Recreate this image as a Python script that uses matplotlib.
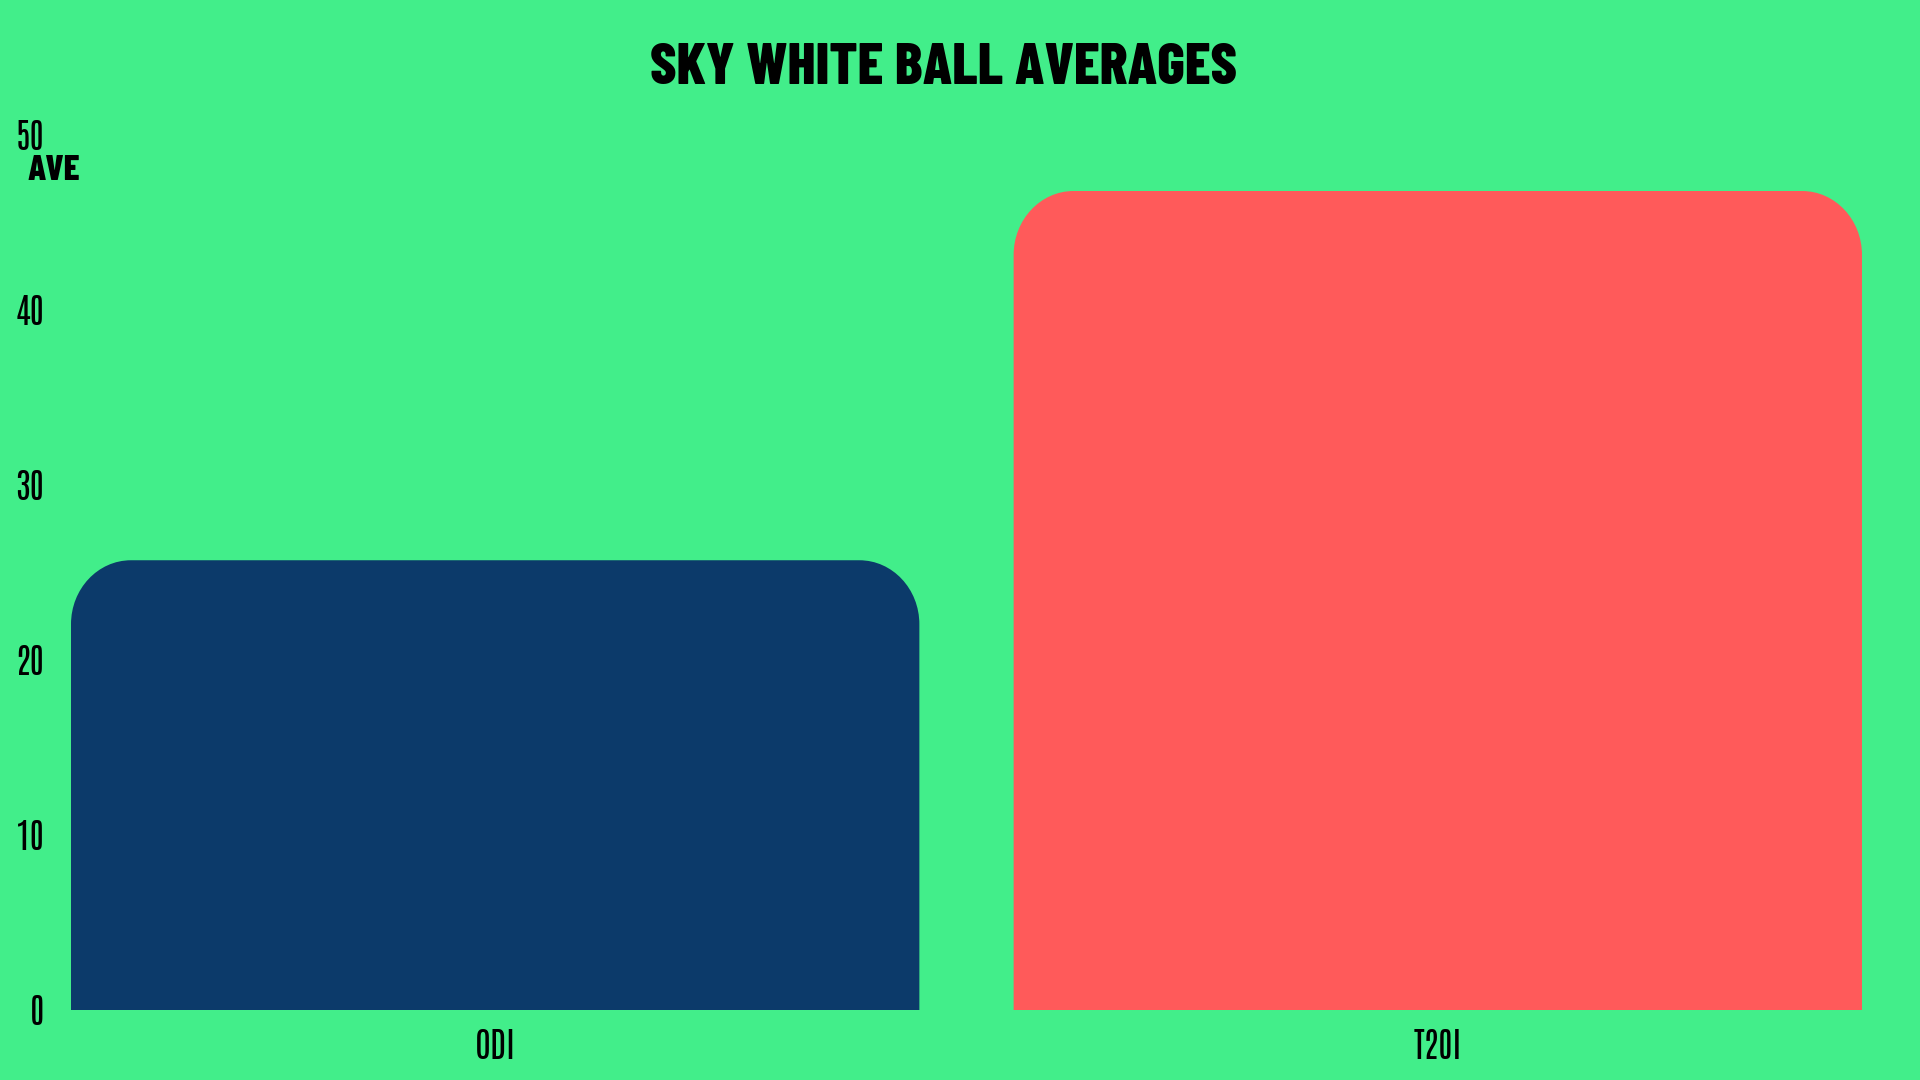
import matplotlib
matplotlib.use("Agg")
import matplotlib.pyplot as plt
from matplotlib.path import Path
from matplotlib.patches import PathPatch

categories = ["ODI", "T20I"]
averages = [25.7, 46.8]
bar_colors = ["#0C3A6A", "#FF5A5A"]
y_ticks = [0, 10, 20, 30, 40, 50]
title = "SKY WHITE BALL AVERAGES"
y_label = "AVE"

BG = "#42EE8A"
TICK_FONT = ["Antonio", "DejaVu Sans"]
HEAD_FONT = ["Barlow Condensed", "Bebas Neue", "DejaVu Sans"]
plt.rcParams["font.family"] = TICK_FONT

W, H = 1920, 1080
fig = plt.figure(figsize=(W / 100, H / 100), dpi=100, facecolor=BG)
ax = fig.add_axes([71 / W, 1 - 1010 / H, (1862 - 71) / W, (1010 - 135) / H])
ax.set_facecolor(BG)
width = 0.9
ax.set_xlim(-0.45, 1.45)
ax.set_ylim(0, 50)
for s in ax.spines.values():
    s.set_visible(False)

bbox = ax.get_position()
px_x = bbox.width * W / (1.45 + 0.45)
px_y = bbox.height * H / 50.0
rx = 60 / px_x
ry = 64 / px_y
k = 0.5523

x_pos = list(range(len(categories)))
for xi, v, c in zip(x_pos, averages, bar_colors):
    x0 = xi - width / 2
    x1 = xi + width / 2
    verts = [
        (x0, 0), (x1, 0), (x1, v - ry),
        (x1, v - ry + k * ry), (x1 - rx + k * rx, v), (x1 - rx, v),
        (x0 + rx, v),
        (x0 + rx - k * rx, v), (x0, v - ry + k * ry), (x0, v - ry),
        (x0, 0),
    ]
    codes = [Path.MOVETO, Path.LINETO, Path.LINETO,
             Path.CURVE4, Path.CURVE4, Path.CURVE4,
             Path.LINETO,
             Path.CURVE4, Path.CURVE4, Path.CURVE4,
             Path.CLOSEPOLY]
    ax.add_patch(PathPatch(Path(verts, codes), facecolor=c, edgecolor="none"))

ax.set_xticks(x_pos)
ax.set_xticklabels(categories)
ax.set_yticks(y_ticks)
ax.set_yticklabels([str(t) for t in y_ticks])
ax.tick_params(axis="both", length=0, labelsize=25, colors="black")
ax.tick_params(axis="y", pad=19)
ax.tick_params(axis="x", pad=14)

fig.text(943 / W, 1 - 69 / H, title, ha="center", va="center",
         fontsize=42, fontweight=800, family=HEAD_FONT, color="black")
fig.text(28 / W, 1 - 171 / H, y_label, ha="left", va="center",
         fontsize=26, fontweight=800, family=HEAD_FONT, color="black")

fig.savefig("out.png", dpi=100, facecolor=BG)
